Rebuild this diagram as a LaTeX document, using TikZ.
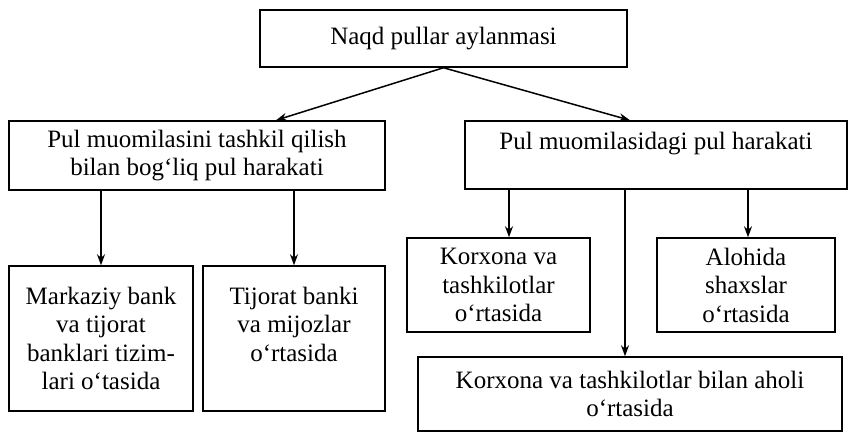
\documentclass[tikz,border=0pt]{standalone}
\usepackage{fontspec}
\setmainfont{Liberation Serif}
\usetikzlibrary{arrows.meta}
\begin{document}
\begin{tikzpicture}[x=1pt,y=-1pt,
  box/.style={draw, line width=1.5pt, inner sep=0pt, align=center, font=\fontsize{25}{28.5}\selectfont},
  arr/.style={line width=1.5pt, -{Stealth[length=11pt,width=8pt]}}]
\useasboundingbox (0,0) rectangle (848,432);
\node[box, minimum width=367pt, minimum height=57pt] (top) at (443.5,38.5) {Naqd pullar aylanmasi};
\node[box, minimum width=376pt, minimum height=69pt] (lmid) at (197,155.5) {Pul muomilasini tashkil qilish\\bilan bog‘liq pul harakati};
\node[box, minimum width=382pt, minimum height=68pt] (rmid) at (656,155) {Pul muomilasidagi pul harakati\\\mbox{}};
\node[box, minimum width=184pt, minimum height=145pt] (b1) at (101,338.5) {Markaziy bank\\va tijorat\\banklari tizim-\\lari o‘tasida};
\node[box, minimum width=182pt, minimum height=145pt] (b2) at (294,338.5) {Tijorat banki\\va mijozlar\\o‘rtasida\\\mbox{}};
\node[box, minimum width=183pt, minimum height=94pt] (k) at (498.5,285) {Korxona va\\tashkilotlar\\o‘rtasida};
\node[box, minimum width=178pt, minimum height=94pt] (a) at (746,285) {Alohida\\shaxslar\\o‘rtasida};
\node[box, minimum width=424pt, minimum height=74pt] (w) at (630,394) {Korxona va tashkilotlar bilan aholi\\o‘rtasida};
\draw[arr] (top.south) -- ([xshift=79pt]lmid.north);
\draw[arr] (top.south) -- ([xshift=-26pt]rmid.north);
\draw[arr] (lmid.south -| b1.north) -- (b1.north);
\draw[arr] (lmid.south -| b2.north) -- (b2.north);
\draw[arr] ([xshift=10.5pt]k.north |- rmid.south) -- ([xshift=10.5pt]k.north);
\draw[arr] ([xshift=2pt]a.north |- rmid.south) -- ([xshift=2pt]a.north);
\draw[arr] ([xshift=-5pt]w.north |- rmid.south) -- ([xshift=-5pt]w.north);
\end{tikzpicture}
\end{document}
